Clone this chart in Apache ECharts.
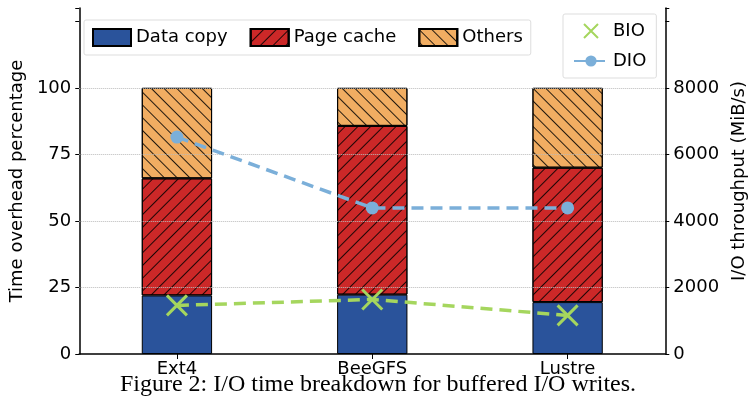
<!DOCTYPE html>
<html><head><meta charset="utf-8">
<script src="https://cdn.jsdelivr.net/npm/echarts@6/dist/echarts.min.js"></script>
<style>body{margin:0;background:#fff}#c{width:756px;height:400px}</style>
</head><body><div id="c"></div>
<script>
var categories = ['Ext4', 'BeeGFS', 'Lustre'];
var dataCopy = [22, 22.3, 19.5];
var pageCache = [44, 63.4, 50.5];
var others = [34, 14.3, 30];
var bio = [1460, 1640, 1160];
var dio = [6520, 4390, 4390];
var leftTicks = [25, 50, 75, 100];

var chart = echarts.init(document.getElementById('c'));
var font = 'DejaVu Sans';
var xPath = 'path://M0,0L10,10M10,0L0,10';
function hatch(rot) {
    return {symbol: 'rect', color: 'rgba(0,0,0,0.85)', dashArrayX: [1, 0], dashArrayY: [1, 8], rotation: rot, symbolSize: 1};
}
var option = {
    animation: false,
    textStyle: {fontFamily: font},
    title: {
        text: 'Figure 2: I/O time breakdown for buffered I/O writes.',
        left: 'center', top: 368,
        textStyle: {fontFamily: 'Liberation Serif', fontSize: 24, fontWeight: 'normal', color: '#000'}
    },
    grid: {left: 70, right: 88, top: 8, bottom: 46},
    legend: [{
        data: [{name: 'Data copy', icon: 'rect'}, {name: 'Page cache', icon: 'rect'}, {name: 'Others', icon: 'rect'}],
        left: 84, top: 20, itemWidth: 38, itemHeight: 17, itemGap: 22,
        padding: [8, 8], borderColor: '#ddd', borderWidth: 1, borderRadius: 2,
        textStyle: {fontSize: 18, fontFamily: font, color: '#000'}
    }, {
        data: [{name: 'BIO', icon: xPath}, {name: 'DIO'}],
        orient: 'vertical', left: 563, top: 14, itemWidth: 34, itemHeight: 14, itemGap: 12,
        padding: [8, 10], borderColor: '#ddd', borderWidth: 1, borderRadius: 2,
        textStyle: {fontSize: 18, fontFamily: font, color: '#000'}
    }],
    xAxis: {
        type: 'category', data: categories,
        axisLine: {lineStyle: {color: '#000', width: 1.5}},
        axisTick: {show: true, alignWithLabel: true, lineStyle: {color: '#000'}},
        axisLabel: {color: '#000', fontSize: 18, margin: 6}
    },
    yAxis: [{
        type: 'value', min: 0, max: 130, interval: 25,
        name: 'Time overhead percentage', nameLocation: 'middle', nameGap: 46,
        nameTextStyle: {fontSize: 18, color: '#000'},
        axisLine: {show: true, lineStyle: {color: '#000', width: 1.5}},
        axisTick: {show: true, length: 4, lineStyle: {color: '#000'}},
        axisLabel: {color: '#000', fontSize: 18, formatter: function (v) { return v <= 100 ? v : ''; }},
        splitLine: {show: false}
    }, {
        type: 'value', min: 0, max: 10400, interval: 2000,
        name: 'I/O throughput (MiB/s)', nameLocation: 'middle', nameGap: 64, nameRotate: 90,
        nameTextStyle: {fontSize: 18, color: '#000'},
        axisLine: {show: true, lineStyle: {color: '#000', width: 1.5}},
        axisTick: {show: true, length: 4, lineStyle: {color: '#000'}},
        axisLabel: {color: '#000', fontSize: 18, formatter: function (v) { return v <= 8000 ? v : ''; }},
        splitLine: {show: false}
    }],
    series: [{
        name: 'Data copy', type: 'bar', stack: 's', barWidth: '36%', data: dataCopy,
        itemStyle: {color: '#2a539b', borderColor: '#000', borderWidth: 1},
        markLine: {
            silent: true, symbol: 'none', label: {show: false},
            lineStyle: {color: '#bbb', type: 'dotted', width: 1},
            data: leftTicks.map(function (t) { return {yAxis: t}; })
        }
    }, {
        name: 'Page cache', type: 'bar', stack: 's', data: pageCache,
        itemStyle: {color: '#cc2828', borderColor: '#000', borderWidth: 1, decal: hatch(-Math.PI / 4)}
    }, {
        name: 'Others', type: 'bar', stack: 's', data: others,
        itemStyle: {color: '#f1ad62', borderColor: '#000', borderWidth: 1, decal: hatch(Math.PI / 4)}
    }, {
        name: 'BIO', type: 'line', yAxisIndex: 1, data: bio, z: 5,
        symbol: xPath, symbolSize: 20,
        lineStyle: {color: '#a5d65e', width: 3.5, type: [12, 7]},
        itemStyle: {color: '#a5d65e', borderColor: '#a5d65e', borderWidth: 3}
    }, {
        name: 'DIO', type: 'line', yAxisIndex: 1, data: dio, z: 5,
        symbol: 'circle', symbolSize: 13,
        lineStyle: {color: '#7bafd9', width: 3.5, type: [12, 7]},
        itemStyle: {color: '#7bafd9'}
    }]
};
chart.setOption(option);
</script>
</body></html>
